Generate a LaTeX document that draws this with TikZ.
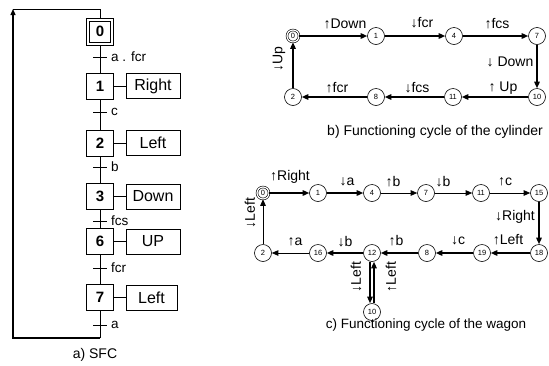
\documentclass[tikz,border=0pt]{standalone}
\usepackage{fontspec}
\setmainfont{Liberation Sans}
\usetikzlibrary{arrows.meta}
\begin{document}
\begin{tikzpicture}[x=1pt,y=-1pt,
  stepbox/.style={draw, line width=0.8pt, minimum width=27pt, minimum height=26pt, inner sep=0pt, font=\fontsize{15}{15}\selectfont\bfseries},
  innerbox/.style={draw, line width=0.8pt, minimum width=21pt, minimum height=21pt, inner sep=0pt},
  actbox/.style={draw, line width=0.8pt, minimum width=54pt, minimum height=25pt, inner sep=0pt, font=\fontsize{16}{16}\selectfont},
  trlbl/.style={anchor=west, inner sep=1pt, font=\fontsize{13.5}{13.5}\selectfont},
  sfcline/.style={line width=0.8pt},
  tickline/.style={line width=0.8pt},
  loopline/.style={line width=1.3pt},
  st/.style={circle, draw, line width=0.6pt, minimum size=17pt, inner sep=0pt, font=\fontsize{7.5}{7.5}\selectfont},
  initst/.style={st, double, double distance=1.2pt, minimum size=12pt},
  thk/.style={line width=1.4pt, -{Triangle[length=6.5pt,width=5.5pt]}},
  thn/.style={line width=0.8pt, -{Triangle[length=6.5pt,width=5.5pt]}},
  elbl/.style={inner sep=0pt, font=\fontsize{14}{14}\selectfont},
  captxt/.style={inner sep=0pt, font=\fontsize{14}{14}\selectfont}
]
\useasboundingbox (0,0) rectangle (549,365);

% ---------- a) SFC ----------
\node[stepbox, minimum height=27pt] (s0) at (100,31.5) {0};
\node[innerbox] (s0in) at (s0.center) {};
\node[stepbox] (s1) at (100,86) {1};
\node[stepbox] (s2) at (100,143) {2};
\node[stepbox] (s3) at (100,196.5) {3};
\node[stepbox] (s6) at (100,241.5) {6};
\node[stepbox] (s7) at (100,297.5) {7};

\node[actbox] (a1) at (153,86) {Right};
\node[actbox] (a2) at (153,143) {Left};
\node[actbox] (a3) at (153,196.5) {Down};
\node[actbox] (a6) at (153,241.5) {UP};
\node[actbox, minimum width=51pt] (a7) at (151.5,297.5) {Left};

\foreach \s in {1,2,3,6,7} \draw[sfcline] (s\s.east) -- (a\s.west);

\coordinate (t0) at (100,57);
\coordinate (t1) at (100,112);
\coordinate (t2) at (100,167);
\coordinate (t3) at (100,221);
\coordinate (t6) at (100,268);
\coordinate (t7) at (100,325);
\coordinate (bot) at (100,338);
\coordinate (bl) at (13,338);
\coordinate (tl) at (13,9);
\coordinate (top) at (100,9);

\draw[sfcline] (s0) -- (s1);
\draw[sfcline] (s1) -- (s2);
\draw[sfcline] (s2) -- (s3);
\draw[sfcline] (s3) -- (s6);
\draw[sfcline] (s6) -- (s7);
\draw[sfcline] (s7.south) -- (bot);
\draw[sfcline] (top) -- (s0.north);

\foreach \t in {t0,t1,t2,t3,t6,t7} \draw[tickline] ([xshift=-7pt]\t) -- ([xshift=7pt]\t);

\node[trlbl] (l0) at (110,57) {a . fcr};
\node[trlbl] (l1) at (110,112) {c};
\node[trlbl] (l2) at (110,167) {b};
\node[trlbl] (l3) at (110,221) {fcs};
\node[trlbl] (l6) at (110,268) {fcr};
\node[trlbl] (l7) at (110,325) {a};

\draw[loopline, -{Triangle[length=6pt,width=5pt]}] (bot) -- (bl) -- (tl);
\draw[sfcline] (tl) -- (top);

\node[captxt] (capa) at (95,355) {a) SFC};

% ---------- b) cylinder ----------
\node[initst] (c0) at (293,36) {0};
\node[st] (c1) at (376,36) {1};
\node[st] (c4) at (454,36) {4};
\node[st] (c7) at (537,36) {7};
\node[st] (c10) at (537,97) {10};
\node[st] (c11) at (453,97) {11};
\node[st] (c8) at (376,97) {8};
\node[st] (c2) at (293,97) {2};

\draw[thk] (c0) -- (c1);
\draw[thk] (c1) -- (c4);
\draw[thk] (c4) -- (c7);
\draw[thk] (c7) -- (c10);
\draw[thk] (c10) -- (c11);
\draw[thk] (c11) -- (c8);
\draw[thk] (c8) -- (c2);
\draw[thk] (c2) -- (c0);

\node[elbl] (bl1) at (345,24) {↑Down};
\node[elbl] (bl2) at (422,23) {↓fcr};
\node[elbl] (bl3) at (497,24) {↑fcs};
\node[elbl] (bl4) at (510,62) {↓ Down};
\node[elbl] (bl5) at (503,88) {↑ Up};
\node[elbl] (bl6) at (417,88) {↓fcs};
\node[elbl] (bl7) at (337,88) {↑fcr};
\node[elbl, rotate=90] (bl8) at (279,59) {↓Up};

\node[captxt] (capb) at (435,132) {b) Functioning cycle of the cylinder};

% ---------- c) wagon ----------
\node[initst] (w0) at (263,193) {0};
\node[st] (w1) at (318,193) {1};
\node[st] (w4) at (372,193) {4};
\node[st] (w7) at (426,193) {7};
\node[st] (w11) at (481,193) {11};
\node[st] (w15) at (539,193) {15};
\node[st] (w18) at (539,253) {18};
\node[st] (w19) at (482,253) {19};
\node[st] (w8) at (427,253) {8};
\node[st] (w12) at (372,253) {12};
\node[st] (w16) at (318,253) {16};
\node[st] (w2) at (263,253) {2};
\node[st] (w10) at (372,312) {10};

\draw[thk] (w0) -- (w1);
\draw[thk] (w1) -- (w4);
\draw[thn] (w4) -- (w7);
\draw[thn] (w7) -- (w11);
\draw[thn] (w11) -- (w15);
\draw[thk] (w15) -- (w18);
\draw[thk] (w18) -- (w19);
\draw[thk] (w19) -- (w8);
\draw[thk] (w8) -- (w12);
\draw[thk] (w12) -- (w16);
\draw[thn] (w16) -- (w2);
\draw[thn] (w2) -- (w0);
\draw[thk, line width=1.2pt] ([xshift=-2pt]w12.south) -- ([xshift=-2pt]w10.north);
\draw[thk, line width=1.2pt] ([xshift=2pt]w10.north) -- ([xshift=2pt]w12.south);

\node[elbl] (cl1) at (290,177) {↑Right};
\node[elbl] (cl2) at (347,182) {↓a};
\node[elbl] (cl3) at (393,182) {↑b};
\node[elbl] (cl4) at (443,182) {↓b};
\node[elbl] (cl5) at (505,182) {↑c};
\node[elbl] (cl6) at (515,217) {↓Right};
\node[elbl] (cl7) at (508,240) {↑Left};
\node[elbl] (cl8) at (458,241) {↓c};
\node[elbl] (cl9) at (396,241) {↑b};
\node[elbl] (cl10) at (345,242) {↓b};
\node[elbl] (cl11) at (295,242) {↑a};
\node[elbl, rotate=90] (cl12) at (250,213) {↓Left};
\node[elbl, rotate=90] (cl13) at (356,277) {↓Left};
\node[elbl, rotate=90] (cl14) at (391,277) {↑Left};

\node[captxt, font=\fontsize{13.5}{13.5}\selectfont] (capc) at (426,325) {c) Functioning cycle of the wagon};
\end{tikzpicture}
\end{document}
